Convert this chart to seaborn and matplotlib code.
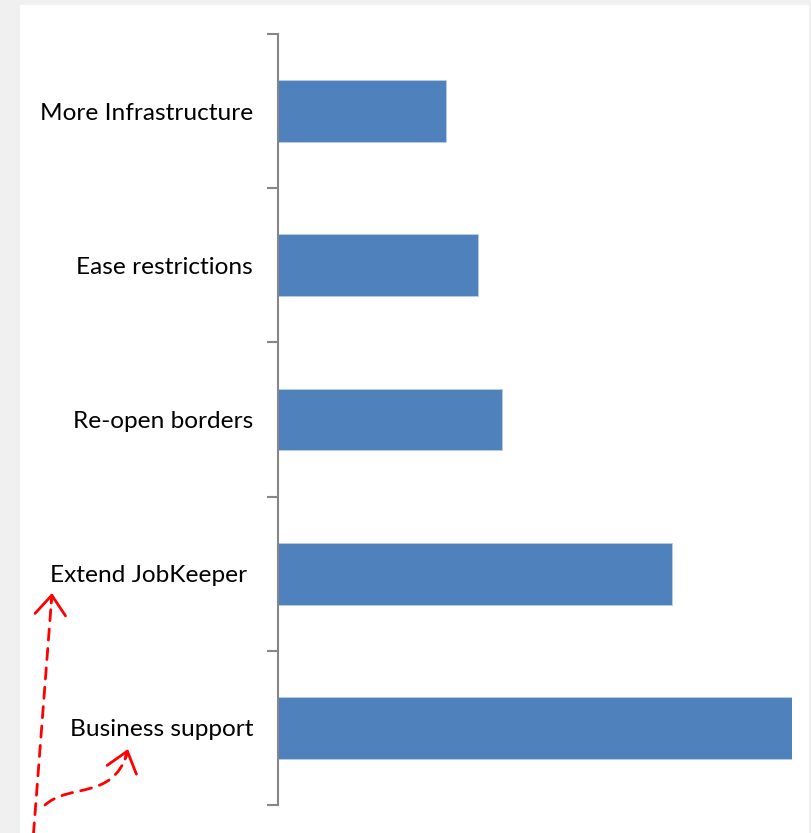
import matplotlib
matplotlib.use("Agg")
import matplotlib.pyplot as plt
from matplotlib.patches import Rectangle, FancyArrowPatch
from matplotlib.path import Path
from matplotlib.ticker import FixedLocator
from matplotlib.transforms import IdentityTransform
import pandas as pd
import seaborn as sns

# values (no value axis shown in the source)
categories = ["More Infrastructure", "Ease restrictions", "Re-open borders",
              "Extend JobKeeper ", "Business support"]
values = [16.8, 20.0, 22.4, 39.3, 51.3]

df = pd.DataFrame({"measure": categories, "score": values})

sns.set_style("white")
plt.rcParams["font.family"] = ["Lato", "DejaVu Sans"]

W, H = 811, 833
fig = plt.figure(figsize=(W / 100, H / 100), dpi=100, facecolor="#f0f0f0")
# white panel behind the chart
fig.patches.append(Rectangle((20 / W, 0), 789 / W, 828 / H, transform=fig.transFigure,
                             facecolor="white", edgecolor="none", zorder=-1))

ax = fig.add_axes([278 / W, 1 - 805 / H, (792 - 278) / W, (805 - 34) / H])
ax.set_facecolor("none")

sns.barplot(data=df, x="score", y="measure", order=categories, color="#4f81bd",
            width=0.4, saturation=1, ax=ax, edgecolor="#b9cde5", linewidth=0.6)

ax.set_xlim(0, max(values))
ax.set_ylim(len(categories) - 0.5, -0.5)
ax.set_xlabel("")
ax.set_ylabel("")
ax.set_xticks([])

for side in ["top", "right", "bottom"]:
    ax.spines[side].set_visible(False)
ax.spines["left"].set_color("#868686")
ax.spines["left"].set_linewidth(1.5)

ax.yaxis.set_minor_locator(FixedLocator([i - 0.5 for i in range(len(categories) + 1)]))
ax.tick_params(axis="y", which="major", length=0, pad=18, labelsize=17.6, labelcolor="black")
ax.tick_params(axis="y", which="minor", length=8, width=1.5, color="#868686", left=True)


# red dashed annotation arrows in the lower left corner (pixel coords, y from top)
def px(x, y):
    return (x, H - y)


line_kw = dict(arrowstyle="-", color="red", lw=2.0, linestyle=(0, (4, 3)),
               transform=IdentityTransform())
head_kw = dict(arrowstyle="->,head_length=0.7,head_width=0.55", mutation_scale=20,
               color="red", lw=2.0, linestyle="solid", transform=IdentityTransform())

# straight arrow up to "Extend JobKeeper"
up_path = Path([px(33, 840), px(51.5, 600)], [Path.MOVETO, Path.LINETO])
fig.add_artist(FancyArrowPatch(path=up_path, **line_kw))
fig.add_artist(FancyArrowPatch(path=Path([px(51.2, 603), px(52, 593)]), **head_kw))

# curved arrow up to "Business support"
curve_path = Path([px(45, 805), px(70, 783), px(112, 800), px(127, 754)],
                  [Path.MOVETO, Path.CURVE4, Path.CURVE4, Path.CURVE4])
fig.add_artist(FancyArrowPatch(path=curve_path, **line_kw))
fig.add_artist(FancyArrowPatch(path=Path([px(125, 759), px(128, 749)]), **head_kw))

fig.savefig("out.png", dpi=100, facecolor=fig.get_facecolor())
